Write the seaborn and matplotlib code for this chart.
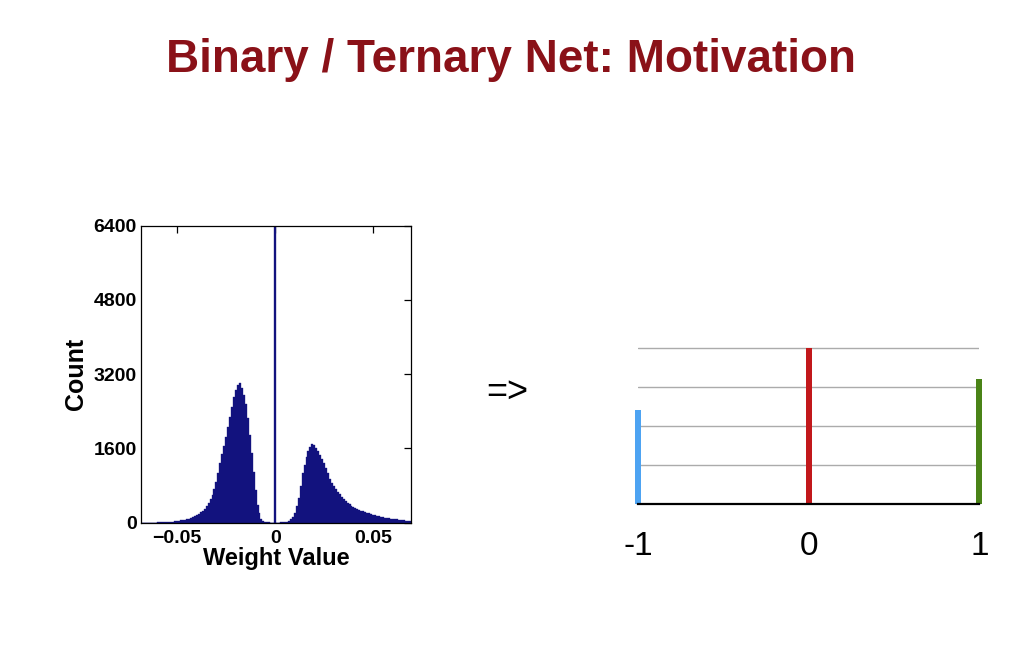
import numpy as np
import pandas as pd
import matplotlib
matplotlib.use("Agg")
import matplotlib.pyplot as plt
import seaborn as sns

# ================================================================
# weight histogram, bin width 0.001, centres -0.068 .. 0.069
left_counts = [
    0, 0, 1, 1, 2, 2, 3, 3, 4, 5,  # -0.068 .. -0.059
    6, 8, 10, 12, 15, 18, 22, 27, 33, 40,  # -0.058 .. -0.049
    47, 56, 66, 77, 90, 105, 122, 142, 165, 190,  # -0.048 .. -0.039
    220, 260, 305, 360, 420, 500, 600, 720, 870, 1070,  # -0.038 .. -0.029
    1280, 1470, 1660, 1850, 2060, 2270, 2500, 2700, 2860, 2970,  # -0.028 .. -0.019
    3010, 2900, 2760, 2560, 2250, 1900, 1500, 1100, 700, 380,  # -0.018 .. -0.009
    200, 90, 40, 18, 8, 4, 2, 1,  # -0.008 .. -0.001
]
zero_count = [7000]
right_counts = [
    1, 2, 4, 6, 10, 20, 38, 70, 130, 200,  # 0.001 .. 0.010
    350, 540, 800, 1060, 1250, 1420, 1540, 1640, 1690, 1670,  # 0.011 .. 0.020
    1610, 1540, 1460, 1380, 1280, 1180, 1060, 940, 860, 790,  # 0.021 .. 0.030
    730, 670, 610, 560, 510, 470, 430, 400, 370, 345,  # 0.031 .. 0.040
    320, 300, 280, 262, 245, 228, 212, 200, 188, 176,  # 0.041 .. 0.050
    164, 152, 140, 128, 116, 108, 100, 93, 86, 80,  # 0.051 .. 0.060
    75, 70, 65, 60, 55, 50, 45, 40, 36,  # 0.061 .. 0.069
]
counts = left_counts + zero_count + right_counts
bin_centers = np.round(np.arange(-68, 70) * 0.001, 4)

hist_yticks = [0, 1600, 3200, 4800, 6400]
hist_xticks = [-0.05, 0, 0.05]
hist_xlabels = ["\u22120.05", "0", "0.05"]

# ternary weights
tern_levels = [-1, 0, 1]
tern_heights = [2.4, 4.0, 3.2]
tern_colors = ["#4da3f2", "#c2181b", "#4a8317"]
grid_levels = [1, 2, 3, 4]
# ================================================================

NAVY = "#12127e"

sns.set_theme(style="white")
plt.rcParams["font.family"] = ["Liberation Sans", "DejaVu Sans"]
plt.rcParams["text.color"] = "black"

fig = plt.figure(figsize=(10.22, 6.54), dpi=100)
fig.patch.set_facecolor("white")

fig.text(0.5, 0.908, "Binary / Ternary Net: Motivation", ha="center", va="center",
         fontsize=33, fontweight="bold", color="#8a1118")

# Histogram of weights.
ax1 = fig.add_axes([0.138, 0.2008, 0.264, 0.4541])
hist_df = pd.DataFrame({"w": bin_centers, "n": counts})
sns.histplot(ax=ax1, data=hist_df, x="w", weights="n", binwidth=0.001,
             binrange=(-0.0685, 0.0695), element="step", fill=True,
             color=NAVY, alpha=1.0, linewidth=0.25, edgecolor=NAVY)
ax1.set_xlim(-0.0685, 0.0693)
ax1.set_ylim(0, 6400)
ax1.set_yticks(hist_yticks)
ax1.set_yticklabels([str(v) for v in hist_yticks])
ax1.set_xticks(hist_xticks)
ax1.set_xticklabels(hist_xlabels)
ax1.tick_params(direction="in", top=True, right=True, length=5, width=0.9,
                labelsize=14, pad=3, colors="black")
ax1.tick_params(axis="x", pad=5)
for lab in ax1.get_xticklabels() + ax1.get_yticklabels():
    lab.set_fontweight("bold")
for sp in ax1.spines.values():
    sp.set_color("black")
    sp.set_linewidth(0.9)
ax1.set_xlabel("Weight Value", fontsize=17, fontweight="bold", labelpad=0, color="black")
ax1.set_ylabel("Count", fontsize=18, fontweight="bold", labelpad=4, color="black")

fig.text(0.4965, 0.40, "=>", ha="center", va="center", fontsize=26, color="black")

# Ternary weight bars.
ax2 = fig.add_axes([0.6243, 0.2298, 0.3341, 0.2495])
tern_df = pd.DataFrame({"level": tern_levels, "h": tern_heights})
sns.barplot(ax=ax2, data=tern_df, x="level", y="h", hue="level", palette=tern_colors,
            native_scale=True, width=0.035, legend=False, saturation=1, linewidth=0)
for p in ax2.patches:
    p.set_clip_on(False)
ax2.set_xlim(-1, 1)
ax2.set_ylim(0, 4.2)
ax2.set_yticks(grid_levels)
ax2.set_yticklabels([])
ax2.set_xticks(tern_levels)
ax2.set_xticklabels([str(v) for v in tern_levels])
ax2.set_axisbelow(True)
ax2.grid(axis="y", color="#ababab", linewidth=1.0)
ax2.grid(axis="x", visible=False)
for side in ["left", "right", "top"]:
    ax2.spines[side].set_visible(False)
ax2.spines["bottom"].set_color("black")
ax2.spines["bottom"].set_linewidth(1.6)
ax2.tick_params(axis="both", length=0, labelsize=24, pad=20, colors="black")
ax2.set_xlabel("")
ax2.set_ylabel("")

fig.savefig("out.png", dpi=100, facecolor="white")
